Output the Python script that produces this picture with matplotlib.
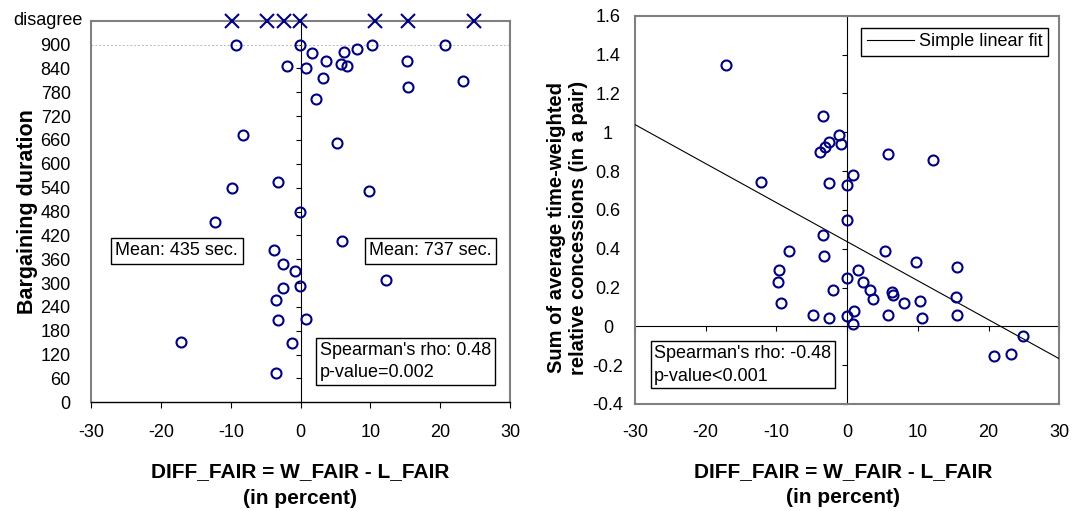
import matplotlib.pyplot as plt

plt.rcParams['font.family'] = ['Liberation Sans', 'DejaVu Sans']

NAVY = '#000080'
FRAME = '#808080'

# left chart: bargaining duration (seconds) against DIFF_FAIR
left_x = [-9.3, -0.1, 1.65, -2.0, 0.7, 3.6, 6.2, 8.0, 10.2, 5.8,
          6.6, 3.2, 2.2, 15.3, 15.4, 20.7, 23.2, -8.3, 5.2, -9.8,
          -3.3, 9.8, -0.1, -12.3, 5.9, -3.8, -2.5, -0.8, 12.2, -2.5,
          -0.1, -3.5, -3.2, 0.75, -17.1, -1.3, -3.5]
left_y = [900, 900, 879, 847, 841, 858, 881, 889, 900, 850,
          847, 815, 762, 858, 793, 900, 808, 672, 653, 540,
          553, 532, 478, 453, 405, 383, 348, 330, 308, 287,
          292, 258, 208, 210, 152, 148, 74]

# pairs that did not agree (plotted on the "disagree" row)
disagree_x = [-9.8, -4.8, -2.4, -0.1, 10.65, 15.4, 24.9]
DISAGREE = 960
duration_ticks = list(range(0, 901, 60))

# right chart: sum of time-weighted relative concessions
right_x = [-17.1, -3.4, -1.2, -2.6, -3.2, -3.8, -0.8, 5.8, 12.2, -12.2,
           -2.5, 0.8, 0.0, 0.0, -3.4, -8.2, -3.3, 5.3, 9.7, 15.5,
           -9.7, 1.6, -9.8, 0.0, 2.3, -2.0, 3.3, 3.6, 6.3, 6.5,
           15.4, -9.3, 8.0, 10.3, 0.9, -4.9, -2.5, 0.0, 5.8, 10.6,
           15.5, 0.8, 24.9, 20.7, 23.1]
right_y = [1.345, 1.083, 0.983, 0.948, 0.923, 0.899, 0.940, 0.890, 0.856, 0.742,
           0.739, 0.782, 0.730, 0.550, 0.469, 0.387, 0.361, 0.390, 0.332, 0.306,
           0.289, 0.292, 0.229, 0.249, 0.227, 0.186, 0.186, 0.143, 0.177, 0.160,
           0.150, 0.121, 0.121, 0.129, 0.077, 0.059, 0.043, 0.052, 0.059, 0.045,
           0.060, 0.014, -0.048, -0.155, -0.142]
fit_intercept = 0.436
fit_slope = -0.0201
concession_ticks = [-0.4, -0.2, 0, 0.2, 0.4, 0.6, 0.8, 1, 1.2, 1.4, 1.6]

diff_ticks = list(range(-30, 31, 10))
xlabel = 'DIFF_FAIR = W_FAIR - L_FAIR\n(in percent)'

fig = plt.figure(figsize=(10.75, 5.11), dpi=100)

# ---------------- left chart ----------------
ax1 = fig.add_axes([0.0851, 0.2127, 0.3893, 0.7468])
ax1.set_xlim(-30, 30)
ax1.set_ylim(0, DISAGREE)

ax1.axhline(900, color='#b8b8b8', lw=0.7, ls=(0, (2, 2)), zorder=1)
ax1.plot(left_x, left_y, 'o', ls='none', mfc='none', mec=NAVY, ms=7.2, mew=1.5,
         zorder=4)
ax1.plot(disagree_x, [DISAGREE] * len(disagree_x), 'x', ls='none', mec=NAVY,
         ms=10, mew=1.5, zorder=4, clip_on=False)

for side in ['top', 'left', 'right']:
    ax1.spines[side].set_color(FRAME)
    ax1.spines[side].set_linewidth(1.5)
ax1.spines['bottom'].set_color('black')
ax1.spines['bottom'].set_linewidth(1.0)

ax1.set_xticks(diff_ticks, [str(v) for v in diff_ticks])
ax1.set_yticks(duration_ticks, [str(v) for v in duration_ticks])
ax1.tick_params(axis='x', direction='out', length=4.3, width=0.8, pad=11, labelsize=13)
ax1.tick_params(axis='y', length=0, pad=15, labelsize=13)
ax1.text(-0.022, DISAGREE, 'disagree', transform=ax1.get_yaxis_transform(),
         ha='right', va='center', fontsize=13)

# vertical axis crossing at x = 0
x0 = (0 - ax1.get_xlim()[0]) / (ax1.get_xlim()[1] - ax1.get_xlim()[0])
sec1 = ax1.secondary_yaxis(x0)
sec1.set_yticks(duration_ticks + [DISAGREE])
sec1.tick_params(direction='in', length=3.6, width=0.8, labelright=False, labelleft=False)
sec1.spines['right'].set_color('black')
sec1.spines['right'].set_linewidth(0.8)

ax1.set_ylabel('Bargaining duration', fontsize=15.5, fontweight='bold', va='center')
ax1.yaxis.set_label_coords(-0.152, 0.5)
ax1.set_xlabel(xlabel, fontsize=15, fontweight='bold', va='top', linespacing=1.5)
ax1.xaxis.set_label_coords(0.498, -0.1565)

box = dict(boxstyle='square,pad=0.25', fc='white', ec='black', lw=1.0)
ax1.text(0.204, 0.397, 'Mean: 435 sec.', transform=ax1.transAxes, ha='center',
         va='center', fontsize=13, bbox=box, zorder=5)
ax1.text(0.810, 0.397, 'Mean: 737 sec.', transform=ax1.transAxes, ha='center',
         va='center', fontsize=13, bbox=box, zorder=5)
box2 = dict(boxstyle='square,pad=0.2', fc='white', ec='black', lw=1.0)
ax1.text(0.750, 0.107, "Spearman's rho: 0.48\np-value=0.002", transform=ax1.transAxes,
         ha='center', va='center', multialignment='left', fontsize=13,
         linespacing=1.45, bbox=box2, zorder=5)

# ---------------- right chart ----------------
ax2 = fig.add_axes([0.5907, 0.2094, 0.3947, 0.7599])
ax2.set_xlim(-30, 30)
ax2.set_ylim(-0.4, 1.6)

ax2.plot(right_x, right_y, 'o', ls='none', mfc='none', mec=NAVY, ms=7.2, mew=1.5,
         zorder=4)
ax2.axline((0, fit_intercept), slope=fit_slope, color='black', lw=0.8,
           label='Simple linear fit', zorder=3)

for side in ax2.spines:
    ax2.spines[side].set_color(FRAME)
    ax2.spines[side].set_linewidth(1.5)

ax2.set_xticks(diff_ticks, [str(v) for v in diff_ticks])
ax2.set_yticks(concession_ticks, ['{:g}'.format(v) for v in concession_ticks])
for lbl in ax2.get_yticklabels():
    lbl.set_ha('center')
ax2.tick_params(axis='x', length=0, pad=14.4, labelsize=13)
ax2.tick_params(axis='y', length=0, pad=19.4, labelsize=13)

x0 = (0 - ax2.get_xlim()[0]) / (ax2.get_xlim()[1] - ax2.get_xlim()[0])
y0 = (0 - ax2.get_ylim()[0]) / (ax2.get_ylim()[1] - ax2.get_ylim()[0])
sec2y = ax2.secondary_yaxis(x0)
sec2y.set_yticks(concession_ticks)
sec2y.tick_params(direction='in', length=3.6, width=0.8, labelright=False, labelleft=False)
sec2y.spines['right'].set_color('black')
sec2y.spines['right'].set_linewidth(0.8)
sec2x = ax2.secondary_xaxis(y0)
sec2x.set_xticks(diff_ticks)
sec2x.tick_params(direction='out', length=3.6, width=0.8, labelbottom=False, labeltop=False)
sec2x.spines['bottom'].set_color('black')
sec2x.spines['bottom'].set_linewidth(0.8)

ax2.set_ylabel('Sum of average time-weighted\nrelative concessions (in a pair)',
               fontsize=14.5, fontweight='bold', va='center', linespacing=1.25)
ax2.yaxis.set_label_coords(-0.159, 0.4545)
ax2.set_xlabel(xlabel, fontsize=15, fontweight='bold', va='top', linespacing=1.5)
ax2.xaxis.set_label_coords(0.490, -0.1493)

ax2.text(0.254, 0.101, "Spearman's rho: -0.48\np-value<0.001", transform=ax2.transAxes,
         ha='center', va='center', multialignment='left', fontsize=13,
         linespacing=1.45, bbox=box2, zorder=5)

leg = ax2.legend(loc='upper right', bbox_to_anchor=(1 - 11 / 424.3, 1 - 12 / 388.3),
                 borderaxespad=0, fancybox=False, edgecolor='black', framealpha=1,
                 handlelength=2.6, handletextpad=0.3, borderpad=0.3, fontsize=13)
leg.get_frame().set_linewidth(1.0)

fig.savefig('out.png', dpi=100)
